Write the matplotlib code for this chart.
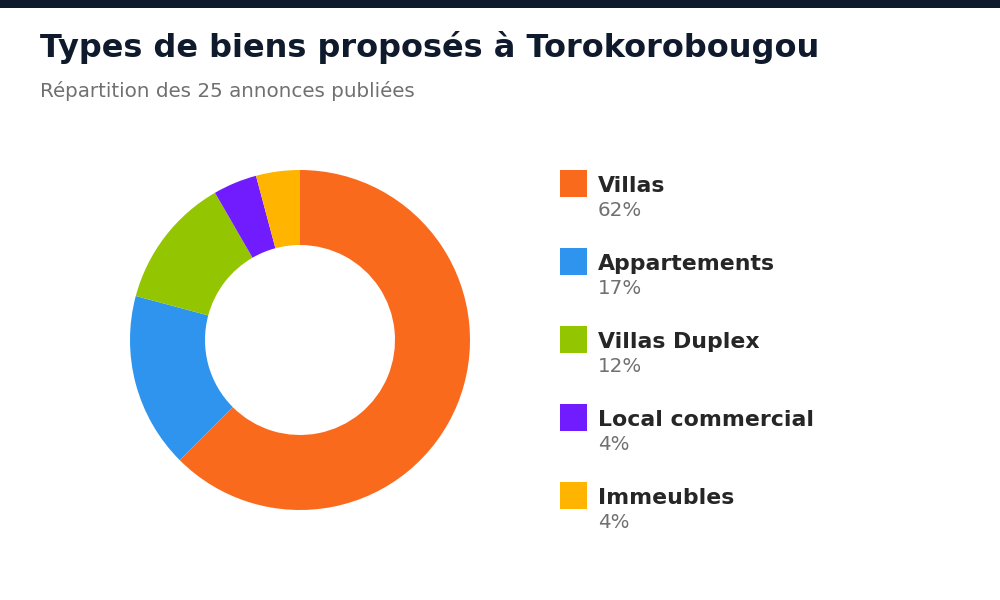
import matplotlib.pyplot as plt
from matplotlib.patches import Rectangle

# données : nombre d'annonces par type de bien
categories = ['Villas', 'Appartements', 'Villas Duplex', 'Local commercial', 'Immeubles']
counts = [15, 4, 3, 1, 1]
colors = ['#FA6A1C', '#2F94EE', '#93C600', '#711CFF', '#FFB400']

title = 'Types de biens proposés à Torokorobougou'
subtitle = 'Répartition des 25 annonces publiées'

total = sum(counts)
pcts = [round(c / total * 100) for c in counts]

fig = plt.figure(figsize=(10, 6), dpi=100)
fig.patch.set_facecolor('white')

# bande sombre en haut
fig.add_artist(Rectangle((0, 1 - 8 / 600), 1, 8 / 600, transform=fig.transFigure,
                         facecolor='#0F1B2D', edgecolor='none'))

fig.text(40 / 1000, 1 - 57 / 600, title, fontsize=23, fontweight='bold',
         color='#0F1B2D', va='baseline', ha='left')
fig.text(40 / 1000, 1 - 97 / 600, subtitle, fontsize=14.35, color='#707070',
         va='baseline', ha='left')

# anneau
ax = fig.add_axes([130 / 1000, 90 / 600, 340 / 1000, 340 / 600])
ax.pie(counts, colors=colors, startangle=90, counterclock=False, radius=1,
       wedgeprops=dict(width=75 / 170, edgecolor='none'))
ax.set_xlim(-1, 1)
ax.set_ylim(-1, 1)
ax.set_aspect('equal')
ax.axis('off')

# légende
for i, (cat, p, col) in enumerate(zip(categories, pcts, colors)):
    top = 170 + i * 78
    fig.add_artist(Rectangle((560 / 1000, 1 - (top + 27) / 600), 27 / 1000, 27 / 600,
                             transform=fig.transFigure, facecolor=col, edgecolor='none'))
    fig.text(598 / 1000, 1 - (top + 22) / 600, cat, fontsize=15.8, fontweight='bold',
             color='#262626', va='baseline', ha='left')
    fig.text(598 / 1000, 1 - (top + 46.5) / 600, f'{p}%', fontsize=14.35,
             color='#707070', va='baseline', ha='left')

fig.savefig('out.png', dpi=100)
